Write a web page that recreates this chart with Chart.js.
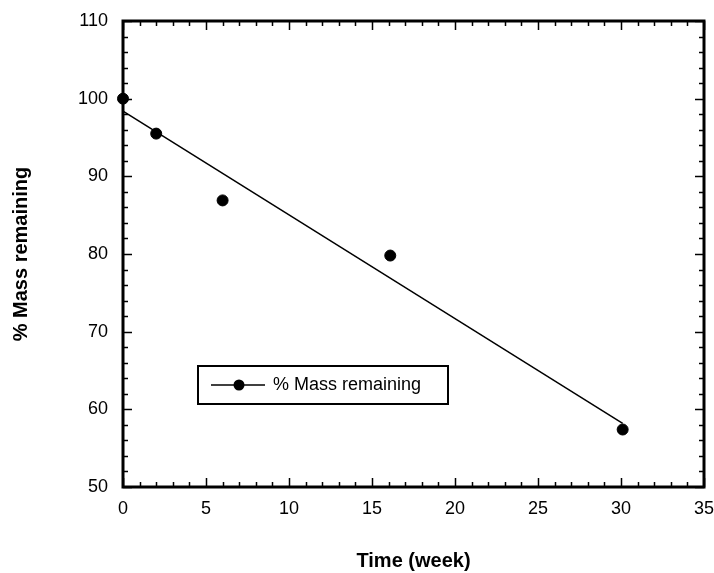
<!DOCTYPE html>
<html>
<head>
<meta charset="utf-8">
<script src="https://cdn.jsdelivr.net/npm/chart.js@4/dist/chart.umd.min.js"></script>
<style>
  html, body { margin: 0; padding: 0; background: #fff; }
  #wrap { width: 714px; height: 573px; }
</style>
</head>
<body>
<div id="wrap"><canvas id="chart" width="714" height="573"></canvas></div>
<script>
// data
const timeWeeks = [0, 2, 6, 16.1, 30.1];
const massRemaining = [100, 95.5, 86.9, 79.8, 57.4];
// end points of the straight fit line
const fitX = [0, 30.1];
const fitY = [98.4, 58.2];
// tick labels
const xTickLabels = [0, 5, 10, 15, 20, 25, 30, 35];
const yTickLabels = [50, 60, 70, 80, 90, 100, 110];
const seriesName = '% Mass remaining';

const FONT = "'Liberation Sans', Arial, Helvetica, sans-serif";

// frame + inward ticks on all four sides
const frameTicks = {
  id: 'frameTicks',
  beforeDatasetsDraw(chart) {
    const {ctx, chartArea: a, scales: {x, y}} = chart;
    ctx.save();
    ctx.strokeStyle = '#000';
    ctx.lineWidth = 1.5;
    ctx.beginPath();
    // x: minor every 1, major every 5
    for (let i = 0; i <= 35; i++) {
      const px = Math.round(x.getPixelForValue(i)) + 0.5;
      const len = i % 5 === 0 ? 9 : 5;
      ctx.moveTo(px, a.bottom); ctx.lineTo(px, a.bottom - len);
      ctx.moveTo(px, a.top); ctx.lineTo(px, a.top + len);
    }
    // y: minor every 2, major every 10
    for (let v = 50; v <= 110; v += 2) {
      const py = Math.round(y.getPixelForValue(v)) + 0.5;
      const len = v % 10 === 0 ? 9 : 5;
      ctx.moveTo(a.left, py); ctx.lineTo(a.left + len, py);
      ctx.moveTo(a.right, py); ctx.lineTo(a.right - len, py);
    }
    ctx.stroke();
    ctx.lineWidth = 3;
    ctx.strokeRect(a.left, a.top, a.right - a.left, a.bottom - a.top);
    ctx.restore();
  }
};

// boxed legend inside the plot
const boxLegend = {
  id: 'boxLegend',
  afterDraw(chart) {
    const ctx = chart.ctx;
    ctx.save();
    ctx.strokeStyle = '#000';
    ctx.lineWidth = 2;
    ctx.strokeRect(198, 366, 250, 38);
    ctx.lineWidth = 1.5;
    ctx.beginPath();
    ctx.moveTo(211, 385);
    ctx.lineTo(265, 385);
    ctx.stroke();
    ctx.fillStyle = '#000';
    ctx.beginPath();
    ctx.arc(239, 385, 5.5, 0, Math.PI * 2);
    ctx.fill();
    ctx.font = '18px ' + FONT;
    ctx.textBaseline = 'middle';
    ctx.fillText(seriesName, 273, 385);
    ctx.restore();
  }
};

new Chart(document.getElementById('chart'), {
  type: 'scatter',
  data: {
    datasets: [
      {
        label: seriesName,
        data: timeWeeks.map((t, i) => ({x: t, y: massRemaining[i]})),
        backgroundColor: '#000',
        borderColor: '#000',
        pointRadius: 5.5,
        pointHoverRadius: 5.5,
        showLine: false,
        clip: false
      },
      {
        label: 'fit',
        data: fitX.map((t, i) => ({x: t, y: fitY[i]})),
        borderColor: '#000',
        borderWidth: 1.5,
        pointRadius: 0,
        showLine: true,
        clip: false
      }
    ]
  },
  options: {
    responsive: false,
    animation: false,
    devicePixelRatio: 1,
    layout: {padding: {top: 21, right: 10, left: 0, bottom: 0}},
    plugins: {legend: {display: false}, tooltip: {enabled: false}},
    scales: {
      x: {
        type: 'linear',
        min: xTickLabels[0],
        max: xTickLabels[xTickLabels.length - 1],
        ticks: {stepSize: 5, color: '#000', font: {family: FONT, size: 18}, padding: 11},
        grid: {display: false, drawTicks: false},
        border: {display: false},
        title: {display: true, text: 'Time (week)', color: '#000',
                font: {family: FONT, size: 20, weight: 'bold'}, padding: {top: 0, bottom: 0}},
        afterFit(s) { s.height = 86; s.paddingLeft = 0; s.paddingRight = 0; }
      },
      y: {
        min: yTickLabels[0],
        max: yTickLabels[yTickLabels.length - 1],
        ticks: {stepSize: 10, color: '#000', font: {family: FONT, size: 18}, padding: 15},
        grid: {display: false, drawTicks: false},
        border: {display: false},
        title: {display: true, text: '% Mass remaining', color: '#000',
                font: {family: FONT, size: 20, weight: 'bold'}, padding: {top: 9, bottom: 0}},
        afterFit(s) { s.width = 123; s.paddingTop = 0; s.paddingBottom = 0; }
      }
    }
  },
  plugins: [frameTicks, boxLegend]
});
</script>
</body>
</html>
